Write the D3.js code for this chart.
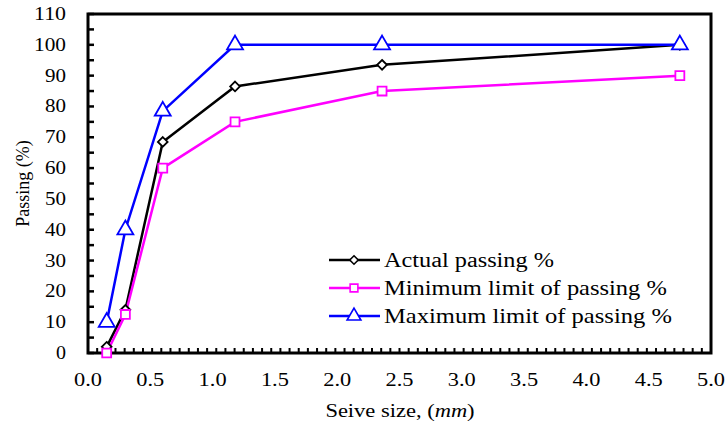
<!DOCTYPE html>
<html>
<head>
<meta charset="utf-8">
<script src="https://cdn.jsdelivr.net/npm/d3@7"></script>
<style>
  body { margin: 0; background: #fff; }
</style>
</head>
<body>
<div id="chart"></div>
<script>
// sieve sizes (mm) and passing percentages
const sieveSizes = [0.15, 0.3, 0.6, 1.18, 2.36, 4.75];
const actualPassing = [2, 14, 68.5, 86.5, 93.5, 100];
const minPassing = [0, 12.5, 60, 75, 85, 90];
const maxPassing = [10, 40, 78.5, 100, 100, 100];
const seriesNames = ["Actual passing %", "Minimum limit of passing %", "Maximum limit of passing %"];
const xTickLabels = [0, 0.5, 1, 1.5, 2, 2.5, 3, 3.5, 4, 4.5, 5];
const yTickLabels = [0, 10, 20, 30, 40, 50, 60, 70, 80, 90, 100, 110];

const width = 728, height = 428;
const margin = {top: 14, right: 17, bottom: 75, left: 88};
const font = "Liberation Serif";

const svg = d3.select("#chart").append("svg")
  .attr("width", width)
  .attr("height", height);

const x = d3.scaleLinear().domain([0, 5]).range([margin.left, width - margin.right]);
const y = d3.scaleLinear().domain([0, 110]).range([height - margin.bottom, margin.top]);

const series = [
  {name: seriesNames[0], values: actualPassing, color: "#000000", symbol: d3.symbolDiamond2, size: 60, width: 170},
  {name: seriesNames[1], values: minPassing, color: "#ff00ff", symbol: d3.symbolSquare, size: 80, width: 283},
  {name: seriesNames[2], values: maxPassing, color: "#0000ff", symbol: d3.symbolTriangle, size: 110, width: 288}
];

// the renderer drops the serif font when spacing is tweaked,
// so widen wide texts with a plain horizontal scale instead
function widen(sel, x0, y0, target) {
  const node = sel.node();
  const k = Math.min(1.25, Math.max(1, target / node.getComputedTextLength()));
  sel.attr("x", 0).attr("y", 0)
    .attr("transform", `translate(${x0},${y0}) scale(${k},1)`);
}

// minor ticks (inward)
const g = svg.append("g");
g.selectAll(".xminor").data(d3.range(0, 69))
  .enter().append("line")
  .attr("x1", i => x(i * 5 / 68)).attr("x2", i => x(i * 5 / 68))
  .attr("y1", y(0)).attr("y2", y(0) - 5)
  .attr("stroke", "#000").attr("stroke-width", 2);

g.selectAll(".ytick").data(d3.range(0, 111, 5))
  .enter().append("line")
  .attr("x1", x(0)).attr("x2", x(0) + 6)
  .attr("y1", d => y(d)).attr("y2", d => y(d))
  .attr("stroke", "#000").attr("stroke-width", 2.5);

// tick labels
svg.append("g").selectAll("text").data(yTickLabels)
  .enter().append("text")
  .attr("font-family", font)
  .attr("font-size", 19)
  .attr("text-anchor", "end")
  .text(d => d)
  .each(function(d) {
    widen(d3.select(this), x(0) - 22, y(d) + 6, String(d).length * 11 - 1);
  });

svg.append("g").selectAll("text").data(xTickLabels)
  .enter().append("text")
  .attr("font-family", font)
  .attr("font-size", 19)
  .attr("text-anchor", "middle")
  .text(d => d3.format(".1f")(d))
  .each(function(d) { widen(d3.select(this), x(d), y(0) + 33, 28); });

// frame
svg.append("rect")
  .attr("x", x(0)).attr("y", y(110))
  .attr("width", x(5) - x(0)).attr("height", y(0) - y(110))
  .attr("fill", "none").attr("stroke", "#000").attr("stroke-width", 3);

// series lines and markers
const line = d3.line()
  .x((d, i) => x(sieveSizes[i]))
  .y(d => y(d));

series.forEach(s => {
  svg.append("path")
    .attr("d", line(s.values))
    .attr("fill", "none")
    .attr("stroke", s.color)
    .attr("stroke-width", 2.5);
});

series.forEach(s => {
  svg.append("g").selectAll("path").data(s.values)
    .enter().append("path")
    .attr("transform", (d, i) => `translate(${x(sieveSizes[i])},${y(d)})`)
    .attr("d", d3.symbol().type(s.symbol).size(s.size))
    .attr("fill", "#fff")
    .attr("stroke", s.color)
    .attr("stroke-width", 1.8);
});

// legend
const legend = svg.append("g").attr("transform", "translate(329,260)");
series.forEach((s, i) => {
  const row = legend.append("g").attr("transform", `translate(0,${i * 28})`);
  row.append("line")
    .attr("x1", 0).attr("x2", 51)
    .attr("stroke", s.color).attr("stroke-width", 2.5);
  row.append("path")
    .attr("transform", "translate(25,0)")
    .attr("d", d3.symbol().type(s.symbol).size(s.size * 0.75))
    .attr("fill", "#fff")
    .attr("stroke", s.color)
    .attr("stroke-width", 1.6);
  row.append("text")
    .attr("font-family", font)
    .attr("font-size", 20)
    .text(s.name)
    .call(widen, 55, 7, s.width);
});

// axis titles
const xTitle = svg.append("text")
  .attr("text-anchor", "middle")
  .attr("font-family", font)
  .attr("font-size", 18);
xTitle.append("tspan").text("Seive size, (");
xTitle.append("tspan").attr("font-style", "italic").text("mm");
xTitle.append("tspan").text(")");
widen(xTitle, 400, 417, 150);

svg.append("text")
  .attr("transform", `translate(29,${(y(0) + y(110)) / 2}) rotate(-90)`)
  .attr("text-anchor", "middle")
  .attr("font-family", font)
  .attr("font-size", 18)
  .text("Passing (%)");
</script>
</body>
</html>
